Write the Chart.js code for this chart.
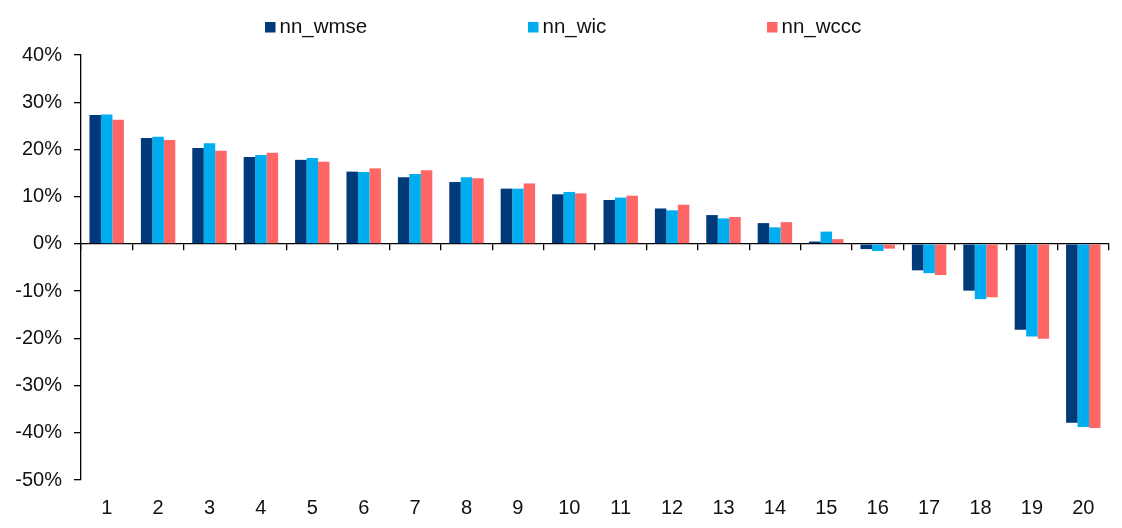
<!DOCTYPE html>
<html>
<head>
<meta charset="utf-8">
<title>nn bars</title>
<script src="https://cdn.jsdelivr.net/npm/chart.js@4.4.1/dist/chart.umd.min.js"></script>
<style>
    html, body { margin: 0; padding: 0; background: #fff; }
    #wrap { width: 1122px; height: 528px; position: relative; }
</style>
</head>
<body>
<div id="wrap"><canvas id="bars-chart"></canvas></div>
<script>
// categories 1..20
const categories = ['1', '2', '3', '4', '5', '6', '7', '8', '9', '10',
    '11', '12', '13', '14', '15', '16', '17', '18', '19', '20'];

// values in %
const nnWmse = [27.3, 22.4, 20.3, 18.4, 17.8, 15.3, 14.1, 13.1, 11.7, 10.5,
    9.3, 7.5, 6.1, 4.4, 0.5, -1.1, -5.6, -9.9, -18.2, -37.9];
const nnWic = [27.4, 22.7, 21.3, 18.8, 18.2, 15.2, 14.8, 14.1, 11.7, 11.0,
    9.8, 7.1, 5.4, 3.5, 2.6, -1.5, -6.2, -11.7, -19.6, -38.8];
const nnWccc = [26.3, 22.0, 19.7, 19.3, 17.4, 16.0, 15.6, 13.9, 12.8, 10.7,
    10.2, 8.3, 5.7, 4.6, 1.0, -1.0, -6.6, -11.3, -20.1, -39.0];

const seriesNames = ['nn_wmse', 'nn_wic', 'nn_wccc'];
const seriesColors = ['#003A7A', '#00AEEF', '#FF6666'];

const yTicks = [-50, -40, -30, -20, -10, 0, 10, 20, 30, 40];

const FONT = '"Liberation Sans", Arial, Helvetica, sans-serif';

// legend drawn by hand: chart.js legend can't space items this wide without huge vertical padding
const legendBoxX = [265, 528, 767];
const topLegend = {
    id: 'topLegend',
    afterDraw(chart) {
        const ctx = chart.ctx;
        ctx.save();
        ctx.font = '20.5px ' + FONT;
        ctx.textBaseline = 'alphabetic';
        chart.data.datasets.forEach((ds, i) => {
            ctx.fillStyle = ds.backgroundColor;
            ctx.fillRect(legendBoxX[i], 22, 10.5, 10.5);
            ctx.fillStyle = '#111';
            ctx.fillText(ds.label, legendBoxX[i] + 14.5, 33);
        });
        ctx.restore();
    }
};

const datasets = [nnWmse, nnWic, nnWccc].map((vals, i) => ({
    label: seriesNames[i],
    data: vals,
    backgroundColor: seriesColors[i],
    borderWidth: 0,
    categoryPercentage: 0.67,
    barPercentage: 1.0
}));

new Chart(document.getElementById('bars-chart'), {
    type: 'bar',
    data: { labels: categories, datasets: datasets },
    plugins: [topLegend],
    options: {
        responsive: true,
        maintainAspectRatio: false,
        animation: false,
        layout: { padding: { top: 55, right: 13, bottom: 0, left: 0 } },
        plugins: {
            legend: { display: false },
            tooltip: { enabled: false }
        },
        scales: {
            x: {
                position: 'bottom',
                offset: true,
                grid: { display: false },
                border: { display: false },
                ticks: { color: '#111', font: { family: FONT, size: 20 }, padding: 8, maxRotation: 0 },
                afterFit: (axis) => { axis.height = 48; }
            },
            // axis line at zero with the tick marks between groups
            x2: {
                type: 'category',
                position: { y: 0 },
                offset: true,
                grid: { offset: true, drawOnChartArea: false, drawTicks: true, tickLength: 6, color: '#000', lineWidth: 1.3 },
                border: { display: true, color: '#000', width: 1.3 },
                ticks: { display: false }
            },
            y: {
                min: -50,
                max: 40,
                afterBuildTicks: (axis) => { axis.ticks = yTicks.map(v => ({ value: v })); },
                grid: { drawOnChartArea: false, tickLength: 7, color: '#000', lineWidth: 1.3 },
                border: { display: true, color: '#000', width: 1.3 },
                ticks: {
                    color: '#111',
                    font: { family: FONT, size: 20 },
                    padding: 12,
                    callback: (v) => v + '%'
                },
                afterFit: (axis) => { axis.width = 81; }
            }
        }
    }
});
</script>
</body>
</html>
